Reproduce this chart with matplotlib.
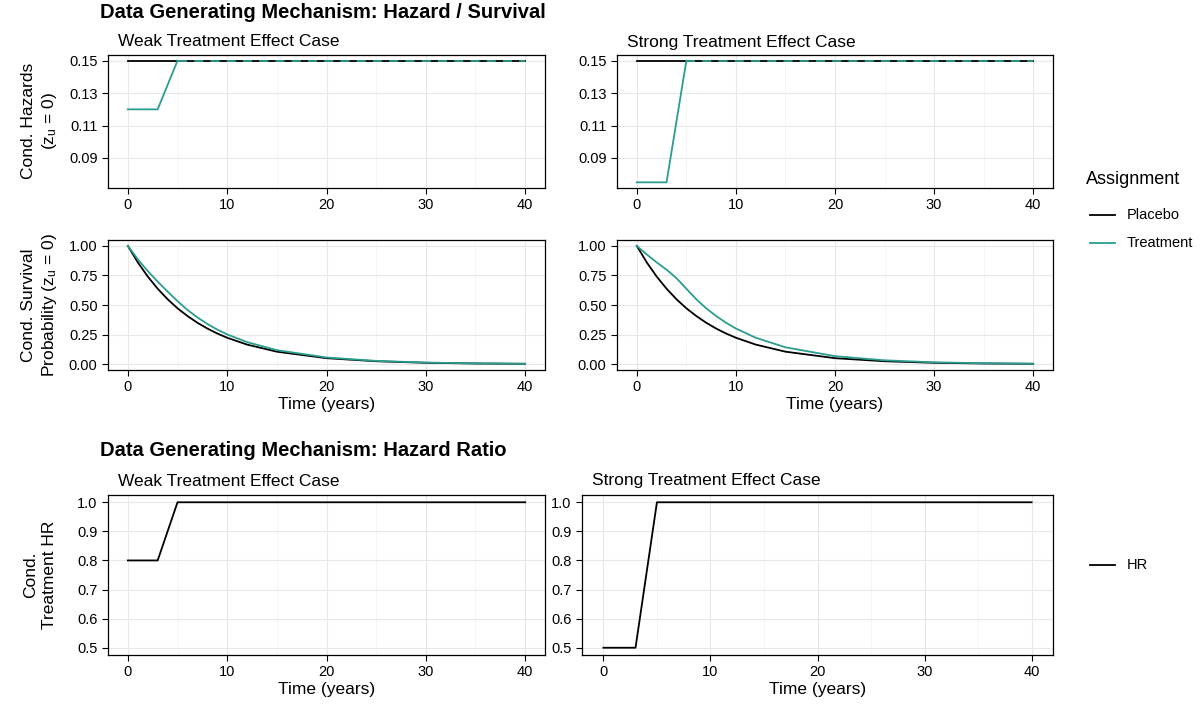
import matplotlib
matplotlib.use("Agg")
import matplotlib.pyplot as plt

plt.rcParams['font.family'] = ['Liberation Sans', 'DejaVu Sans']

haz_t = [0, 3, 5, 40]
haz_placebo = [0.15, 0.15, 0.15, 0.15]
haz_weak = [0.12, 0.12, 0.15, 0.15]
haz_strong = [0.075, 0.075, 0.15, 0.15]

surv_t = [0, 1, 2, 3, 4, 5, 6, 7, 8, 9, 10, 12, 15, 20, 25, 30, 35, 40]
surv_placebo = [1, .861, .741, .638, .549, .472, .407, .350, .301, .259, .223, .165, .105, .050, .024, .011, .005, .0025]
surv_weak = [1, .887, .787, .698, .614, .533, .458, .395, .340, .292, .251, .186, .118, .056, .027, .013, .006, .0029]
surv_strong = [1, .928, .861, .799, .727, .638, .549, .472, .407, .350, .301, .223, .142, .067, .032, .015, .0071, .0034]

hr_t = [0, 3, 5, 40]
hr_weak = [0.8, 0.8, 1.0, 1.0]
hr_strong = [0.5, 0.5, 1.0, 1.0]

TEAL = '#2a9d8f'
W, H = 1200, 711
fig = plt.figure(figsize=(12, 7.11), dpi=100)

def ax_px(x0, y0, x1, y1):
    return fig.add_axes([x0 / W, 1 - y1 / H, (x1 - x0) / W, (y1 - y0) / H])

def style(ax, yticks, ylim):
    ax.set_xlim(-2, 42)
    ax.set_xticks([0, 10, 20, 30, 40])
    ax.set_xticks([5, 15, 25, 35], minor=True)
    ax.set_yticks(yticks)
    ax.set_ylim(*ylim)
    ax.grid(True, which='major', color='#e8e8e8', lw=0.8)
    ax.grid(True, which='minor', axis='x', color='#f3f3f3', lw=0.5)
    ax.set_axisbelow(True)
    ax.tick_params(which='minor', length=0)
    ax.tick_params(which='major', direction='out', length=4, labelsize=10.5, colors='black')
    for s in ax.spines.values():
        s.set_color('black'); s.set_linewidth(0.9)

def fmt(ax, decimals):
    ax.set_yticklabels([f"{v:.{decimals}f}" for v in ax.get_yticks()])

hz_ticks = [0.09, 0.11, 0.13, 0.15]
for (x0, x1, trt, name) in [(108, 545, haz_weak, 'Weak'), (617, 1053, haz_strong, 'Strong')]:
    ax = ax_px(x0, 55, x1, 188)
    style(ax, hz_ticks, (0.0715, 0.1535)); fmt(ax, 2)
    ax.plot(haz_t, haz_placebo, color='black', lw=1.3)
    ax.plot(haz_t[:3], trt[:3], color=TEAL, lw=1.3)
    ax.plot(haz_t[2:], trt[2:], color=TEAL, lw=1.3, dashes=(5, 4))
    fig.text(x0 / W + 0.008, 1 - 42 / H, f"{name} Treatment Effect Case", fontsize=12.5, va='center')

for (x0, x1, trt) in [(108, 545, surv_weak), (617, 1053, surv_strong)]:
    ax = ax_px(x0, 240, x1, 370)
    style(ax, [0, .25, .5, .75, 1], (-0.05, 1.05)); fmt(ax, 2)
    ax.plot(surv_t, surv_placebo, color='black', lw=1.3)
    ax.plot(surv_t, trt, color=TEAL, lw=1.3)
    ax.set_xlabel('Time (years)', fontsize=12.5, labelpad=2)

for (x0, x1, hr, name) in [(108, 545, hr_weak, 'Weak'), (582, 1053, hr_strong, 'Strong')]:
    ax = ax_px(x0, 495, x1, 655)
    style(ax, [0.5, 0.6, 0.7, 0.8, 0.9, 1.0], (0.475, 1.025)); fmt(ax, 1)
    ax.plot(hr_t, hr, color='black', lw=1.3)
    ax.set_xlabel('Time (years)', fontsize=12.5, labelpad=2)
    fig.text(x0 / W + 0.008, 1 - 481 / H, f"{name} Treatment Effect Case", fontsize=12.5, va='center')

fig.text(100 / W, 1 - 13 / H, 'Data Generating Mechanism: Hazard / Survival', fontsize=14.5, weight='bold', va='center')
fig.text(100 / W, 1 - 451 / H, 'Data Generating Mechanism: Hazard Ratio', fontsize=14.5, weight='bold', va='center')

zu = r'($\mathregular{z_u}$ = 0)'
fig.text(40 / W, 1 - 121 / H, 'Cond. Hazards\n' + zu, rotation=90, ha='center', va='center', fontsize=12.5, linespacing=1.3)
fig.text(40 / W, 1 - 305 / H, 'Cond. Survival\nProbability ' + zu, rotation=90, ha='center', va='center', fontsize=12.5, linespacing=1.3)
fig.text(40 / W, 1 - 575 / H, 'Cond.\nTreatment HR', rotation=90, ha='center', va='center', fontsize=12.5, linespacing=1.3)

fig.text(1086 / W, 1 - 180 / H, 'Assignment', fontsize=13, va='center')
for y, lab, c in [(215, 'Placebo', 'black'), (243, 'Treatment', TEAL)]:
    fig.add_artist(plt.Line2D([1090 / W, 1115 / W], [1 - y / H] * 2, color=c, lw=1.3))
    fig.text(1127 / W, 1 - y / H, lab, fontsize=10.5, va='center')
fig.add_artist(plt.Line2D([1090 / W, 1115 / W], [1 - 565 / H] * 2, color='black', lw=1.3))
fig.text(1127 / W, 1 - 565 / H, 'HR', fontsize=10.5, va='center')

fig.savefig('out.png', dpi=100)
